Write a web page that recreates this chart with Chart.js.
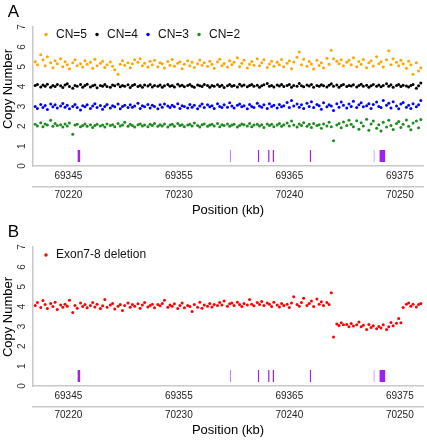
<!DOCTYPE html>
<html><head><meta charset="utf-8">
<script src="https://cdn.jsdelivr.net/npm/chart.js@4.4.1/dist/chart.umd.min.js"></script>
<style>
body{margin:0;background:#fff;width:427px;height:440px;overflow:hidden;}
.panel{position:absolute;left:0;width:427px;height:220px;}
</style></head><body>
<div class="panel" style="top:0"><canvas id="cA" width="427" height="220"></canvas></div>
<div class="panel" style="top:220px"><canvas id="cB" width="427" height="220"></canvas></div>
<script>
const POSITIONS = [
69342.0,69342.2,69342.5,69342.7,69342.9,69343.1,69343.4,69343.6,69343.8,69344.0,
69344.3,69344.5,69344.7,69344.9,69345.1,69345.4,69345.6,69345.8,69346.1,69346.3,
69346.5,69346.7,69347.0,69347.2,69347.4,69347.6,69347.9,69348.1,69348.3,69348.5,
69348.8,69349.0,69349.2,69349.5,69349.7,69349.9,69350.1,69350.4,69350.6,69350.8,
69351.0,69351.3,69351.5,69351.7,69351.9,69352.2,69352.4,69352.6,69352.8,69353.1,
69353.3,69353.5,69353.7,69354.0,69354.2,69354.4,69354.6,69354.9,69355.1,69355.3,
69355.5,69355.8,69356.0,69356.2,69356.4,69356.7,69356.9,69357.1,69357.3,69357.6,
69357.8,69358.0,69358.2,69358.5,69358.7,69358.9,69359.1,69359.4,69359.6,69359.8,
69360.0,69360.3,69360.5,69360.7,69360.9,69361.2,69361.4,69361.6,69361.8,69362.1,
69362.3,69362.5,69362.7,69363.0,69363.2,69363.4,69363.6,69363.9,69364.1,69364.3,
69364.5,69364.8,69365.0,69365.2,69365.4,69365.7,69365.9,69366.1,69366.3,69366.6,
69366.8,69367.0,69367.2,69367.5,69367.7,69367.9,69368.1,69368.4,69368.6,69368.8,
69369.0,69369.3,69369.5,69369.7,69369.9,69370.2,69370.4,69370.6,69370.8,69371.1,
69371.3,69371.5,69371.7,69372.0,69372.2,69372.4,69372.6,69372.9,69373.1,69373.3,
69373.5,69373.8,69374.0,69374.2,69374.4,69374.7,69374.9,69375.1,69375.3,69375.6,
69375.8,69376.0,69376.2,69376.5,69376.7,69376.9];

const CN5 = [
5.25,5.10,5.60,5.35,5.05,5.50,5.20,4.95,5.30,5.15,
5.40,5.00,5.25,5.10,4.90,5.20,5.35,5.05,5.15,4.98,
5.30,5.12,5.22,4.92,5.38,5.05,5.18,5.28,4.96,5.10,
5.24,5.02,4.85,4.62,5.12,5.30,5.08,5.20,4.95,5.15,
5.35,5.22,5.40,5.05,5.18,4.98,5.28,5.10,5.32,5.00,
5.20,5.15,4.94,5.26,5.08,5.36,5.02,5.18,5.25,4.90,
5.12,5.30,5.05,5.22,4.96,5.15,5.34,5.08,5.20,5.02,
5.28,5.12,4.92,5.24,5.38,5.05,5.16,4.98,5.30,5.10,
5.22,5.45,5.00,5.18,5.32,4.94,5.12,5.26,5.08,5.40,
5.05,5.20,5.35,4.96,5.14,5.28,5.02,5.22,5.10,5.36,
5.00,5.18,5.30,4.90,5.24,5.48,5.74,5.10,5.38,5.02,
5.26,5.14,4.88,5.32,5.06,5.20,4.95,5.42,5.12,5.83,
5.40,5.28,5.15,5.35,5.05,5.22,5.32,5.10,5.45,5.00,
5.26,5.12,5.36,4.95,5.20,5.30,5.04,5.50,5.15,5.25,
4.98,5.35,5.80,5.10,5.40,5.22,5.05,5.32,5.15,4.92,
5.28,5.10,4.62,5.20,4.78,4.95];

const CN4 = [
4.05,4.10,3.98,4.08,4.02,4.12,3.96,4.06,4.00,4.10,
4.04,3.95,4.08,4.14,4.00,3.92,4.06,4.02,4.10,3.97,
4.05,4.12,3.98,4.04,4.08,3.94,4.06,4.02,4.10,4.00,
3.96,4.08,4.04,4.12,3.99,4.06,4.02,4.09,3.95,4.05,
4.10,4.00,4.06,3.97,4.08,4.03,4.11,3.98,4.05,4.02,
4.08,3.96,4.04,4.10,4.01,4.06,3.98,4.12,4.03,4.07,
3.99,4.05,4.10,4.02,3.96,4.08,4.04,4.00,4.11,4.05,
3.97,4.06,4.02,4.09,4.00,4.07,3.95,4.04,4.10,4.01,
4.06,3.98,4.12,4.03,4.08,3.99,4.05,4.10,4.02,4.07,
3.96,4.04,4.09,4.15,4.01,4.06,3.98,4.08,4.03,4.11,
4.00,4.05,4.10,3.97,4.06,4.02,4.16,4.04,3.99,4.08,
4.03,4.10,3.96,4.06,4.01,4.09,4.04,3.98,4.07,4.14,
4.02,4.08,3.97,4.05,4.11,4.00,4.06,4.03,4.09,3.98,
4.05,4.12,4.01,4.07,3.96,4.04,4.10,4.02,4.08,3.99,
4.06,4.14,4.02,4.09,3.97,4.05,4.11,4.00,4.07,4.03,
3.98,4.06,4.10,3.92,4.04,4.18];

const CN3 = [
3.00,2.90,3.10,2.95,3.05,2.85,3.12,2.98,3.08,2.92,
3.02,3.15,2.96,3.06,2.88,3.00,3.10,2.94,2.82,3.04,
2.98,3.08,2.90,3.02,3.14,2.95,3.05,2.86,3.00,3.10,
2.92,3.04,2.98,3.12,2.88,3.00,3.06,2.94,3.08,2.96,
3.02,3.16,2.90,3.04,2.98,3.10,2.92,3.06,3.00,2.88,
3.08,2.96,3.12,3.02,2.94,3.06,2.98,3.14,2.90,3.04,
3.00,2.92,3.10,2.96,3.06,2.88,3.02,3.12,2.94,3.08,
2.98,3.04,2.90,3.14,3.00,2.94,3.08,2.96,3.18,3.02,
2.92,3.06,3.12,2.98,3.04,2.88,3.10,3.00,2.94,3.16,
3.02,2.96,3.08,2.90,3.14,3.00,3.06,2.92,3.10,2.98,
3.04,3.20,2.94,3.30,3.02,3.12,2.96,3.08,2.90,3.16,
3.00,3.24,2.94,3.10,3.04,2.86,3.18,2.98,3.08,3.02,
2.80,3.14,2.96,3.22,3.06,2.92,3.12,3.00,3.26,2.94,
3.08,3.18,2.98,3.04,3.14,2.90,3.10,3.22,3.00,2.94,
3.30,3.06,3.16,2.92,3.24,3.02,2.88,3.12,3.20,2.96,
3.06,2.90,3.14,2.98,3.08,3.30];

const CN2 = [
2.10,2.02,2.18,1.98,2.12,2.06,2.30,2.00,2.14,2.04,
2.08,1.96,2.12,2.02,2.16,1.60,2.06,2.10,1.98,2.04,
2.12,2.00,2.08,1.94,2.04,2.10,2.02,2.06,1.96,2.12,
2.04,2.08,1.98,2.14,2.02,2.06,2.20,2.00,2.10,2.04,
1.96,2.08,2.12,2.02,2.06,1.98,2.10,2.04,2.14,2.00,
2.08,2.02,2.12,1.96,2.06,2.10,2.00,2.14,2.04,2.08,
1.98,2.06,2.10,2.02,2.16,2.04,1.96,2.08,2.12,2.00,
2.06,2.10,2.02,2.14,1.98,2.08,2.04,2.12,2.00,2.06,
2.10,1.96,2.04,2.12,2.08,2.02,2.14,1.98,2.06,2.10,
2.02,2.08,1.94,2.12,2.04,2.10,1.98,2.06,2.14,2.00,
2.08,2.16,2.02,2.26,2.06,1.96,2.12,2.04,2.18,2.00,
2.10,1.94,2.14,2.04,2.08,1.90,2.12,2.02,2.20,1.98,
1.27,2.06,2.14,1.92,2.22,2.04,2.30,2.10,1.98,2.28,
1.85,2.18,2.02,2.35,1.80,2.12,2.26,1.90,2.08,1.76,
2.20,1.96,2.30,2.04,1.84,2.14,2.24,1.94,2.10,2.32,
2.00,1.82,2.16,2.26,1.92,2.34];

const EXON78_DEL = [
4.05,4.20,3.95,4.30,4.10,3.90,4.15,4.00,4.22,3.85,
4.08,3.96,4.12,4.02,4.32,3.70,4.05,3.92,4.18,4.00,
4.10,3.94,4.06,4.20,3.98,4.12,3.90,4.04,4.35,3.96,
4.08,4.15,3.88,4.02,4.10,3.80,4.05,4.18,3.96,4.10,
4.02,4.14,3.92,4.08,4.20,3.98,4.06,4.12,3.94,4.10,
4.04,4.16,4.32,3.96,4.08,4.02,4.14,3.90,4.06,4.18,
3.94,4.05,4.00,3.75,4.10,3.96,4.22,3.92,4.08,4.02,
4.15,3.98,4.10,4.05,4.20,4.08,4.28,4.02,4.14,4.18,
4.06,4.22,4.10,4.00,4.16,4.08,4.35,4.12,4.04,4.20,
4.10,4.26,4.05,4.18,4.12,4.00,4.22,4.08,3.98,4.15,
4.05,4.12,3.95,4.18,4.50,4.10,4.02,4.20,4.42,4.06,
4.15,4.28,4.00,4.38,4.12,4.24,4.05,4.20,4.10,4.70,
2.47,3.12,3.05,3.18,3.08,3.10,2.98,3.15,3.02,3.08,
3.22,2.98,3.06,2.85,3.10,2.94,3.04,2.88,3.00,2.92,
3.08,2.85,2.98,3.20,3.04,3.16,3.40,3.18,3.95,4.12,
4.18,4.02,4.12,3.98,4.10,4.15];

const EXON_START = [69345.82,69359.62,69362.14,69363.08,69363.48,69366.84,69372.63,69373.15];
const EXON_END   = [69346.09,69359.70,69362.28,69363.22,69363.62,69366.98,69372.71,69373.70];

const X_TICKS = [69345,69355,69365,69375];
const X2_TICKS = [70220,70230,70240,70250];
const Y_TICKS = [0,1,2,3,4,5,6,7];
const X_MIN = 69341.8, X_MAX = 69377.1, X2_SHIFT = 875;

const FONT = '"Liberation Sans", Arial, sans-serif';
const PURPLE = '#A020F0';

function pts(vals){ return POSITIONS.map((x,i)=>({x:x, y:vals[i]})); }
function exonData(){
  const d=[];
  EXON_START.forEach((s,i)=>{ d.push({x:s,y:0.8},{x:EXON_END[i],y:0.8},{x:EXON_END[i],y:null}); });
  return d;
}
function scatterSet(label,vals,color){
  return {type:'scatter',label:label,data:pts(vals),backgroundColor:color,borderColor:color,
    pointRadius:1.5,pointBorderWidth:0,pointHoverRadius:1.5,xAxisID:'x',yAxisID:'y'};
}
function exonSet(){
  return {type:'line',label:'exons',data:exonData(),backgroundColor:PURPLE,borderColor:'rgba(0,0,0,0)',
    borderWidth:0,pointRadius:0,fill:{value:0.2},spanGaps:false,xAxisID:'x',yAxisID:'y'};
}

function decor(letter,titleY,legendY){
  return {id:'decor'+letter, afterDraw(chart){
    const ctx=chart.ctx, ys=chart.scales.y;
    ctx.save();
    ctx.textAlign='center'; ctx.textBaseline='middle';
    ctx.fillStyle='#000'; ctx.font='17px '+FONT;
    ctx.fillText(letter,13.5,12);
    ctx.font='10px '+FONT; ctx.fillStyle='#333';
    Y_TICKS.forEach(v=>{ const y=ys.getPixelForValue(v); ctx.save(); ctx.translate(22.5,y); ctx.rotate(-Math.PI/2); ctx.fillText(String(v),0,0); ctx.restore(); });
    ctx.font='13px '+FONT; ctx.fillStyle='#000';
    ctx.save(); ctx.translate(8.5,titleY); ctx.rotate(-Math.PI/2); ctx.fillText('Copy Number',0,0); ctx.restore();
    ctx.font='12px '+FONT; ctx.textAlign='left';
    let x=46;
    chart.data.datasets.filter(d=>d.type==='scatter').forEach(d=>{
      ctx.fillStyle=d.backgroundColor; ctx.beginPath(); ctx.arc(x,legendY,1.7,0,Math.PI*2); ctx.fill();
      ctx.fillStyle='#111'; ctx.fillText(d.label,x+10,legendY);
      x += 10 + ctx.measureText(d.label).width + 10;
    });
    ctx.restore();
  }};
}

function makeChart(id,datasets,letter,titleY,legendY){
  const tickFont={size:10,family:FONT};
  return new Chart(document.getElementById(id),{
    type:'scatter',
    data:{datasets:datasets},
    options:{
      responsive:false, animation:false, devicePixelRatio:1,
      layout:{padding:{left:0,right:4,top:27,bottom:0}},
      plugins:{legend:{display:false},tooltip:{enabled:false}},
      scales:{
        x:{type:'linear',position:'bottom',weight:0,min:X_MIN,max:X_MAX,
          grid:{display:false,drawTicks:false},border:{display:true,color:'#c8c8c8',width:1.5},
          ticks:{autoSkip:false,padding:4,font:tickFont,color:'#222',callback:v=>String(v)},
          afterBuildTicks:s=>{s.ticks=X_TICKS.map(v=>({value:v}));},
          afterFit:s=>{s.height=21;}},
        x2:{type:'linear',position:'bottom',weight:1,min:X_MIN+X2_SHIFT,max:X_MAX+X2_SHIFT,
          grid:{display:false,drawTicks:false},border:{display:true,color:'#c8c8c8',width:1.5},
          ticks:{autoSkip:false,padding:2,font:tickFont,color:'#222',callback:v=>String(v)},
          afterBuildTicks:s=>{s.ticks=X2_TICKS.map(v=>({value:v}));},
          title:{display:true,text:'Position (kb)',font:{size:13,family:FONT},color:'#000',padding:{top:0,bottom:2}},
          afterFit:s=>{s.height=33;}},
        y:{type:'linear',position:'left',min:0,max:7,
          grid:{display:false,drawTicks:false},border:{display:true,color:'#c8c8c8',width:1.5},
          ticks:{display:false},afterFit:s=>{s.width=33;}}
      }
    },
    plugins:[decor(letter,titleY,legendY)]
  });
}

makeChart('cA',[
  scatterSet('CN=5',CN5,'#FFA500'),
  scatterSet('CN=4',CN4,'#000000'),
  scatterSet('CN=3',CN3,'#0000FF'),
  scatterSet('CN=2',CN2,'#1E8B1E'),
  exonSet()
],'A',89,34.5);

makeChart('cB',[
  scatterSet('Exon7-8 deletion',EXON78_DEL,'#FF0000'),
  exonSet()
],'B',97,35);
</script>
</body></html>
